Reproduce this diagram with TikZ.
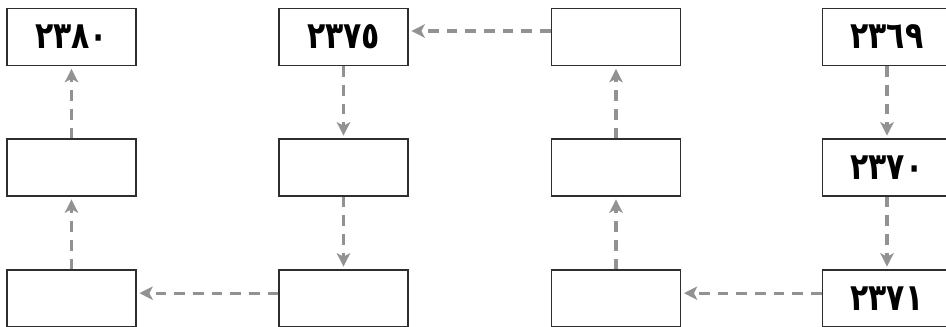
\documentclass[tikz,border=0pt]{standalone}
\usepackage{fontspec}
\usetikzlibrary{arrows.meta}
\newfontfamily\arabicfont[Script=Arabic,FakeStretch=0.8]{DejaVu Sans}
\definecolor{agray}{HTML}{929294}
\definecolor{aframe}{HTML}{2E2E2E}
\tikzset{
  yearbox/.style={draw=aframe,line width=1.1pt,minimum width=96.75pt,minimum height=42.75pt,inner sep=0pt,font=\arabicfont\bfseries\fontsize{28}{28}\selectfont},
  darr/.style={-{Stealth[length=10pt,width=10pt,inset=2.5pt]},line width=2.4pt,draw=agray,dash pattern=on 8pt off 6pt,shorten >=2pt},
}
\begin{document}
\begin{tikzpicture}[x=0.75pt,y=-0.75pt]
  \useasboundingbox (0,0) rectangle (946,326);
  \clip (0,0) rectangle (946,326);
  % boxes: column/row
  \foreach \n/\x/\y/\t in {
      c1r1/71.5/37/{٢٣٨٠}, c1r2/71.5/167.5/{}, c1r3/71.5/298.5/{},
      c2r1/343.5/37/{٢٣٧٥}, c2r2/343.5/167.5/{}, c2r3/343.5/298.5/{},
      c3r1/616/37/{}, c3r2/616/167.5/{}, c3r3/616/298.5/{},
      c4r1/887/37/{٢٣٦٩}, c4r2/887/167.5/{٢٣٧٠}, c4r3/887/298.5/{٢٣٧١}} {
    \node[yearbox] (\n) at (\x,\y) {\t};
  }
  % right column down
  \draw[darr] (c4r1) -- (c4r2);
  \draw[darr] (c4r2) -- (c4r3);
  \draw[darr] ([yshift=4pt]c4r3.west) -- ([yshift=4pt]c3r3.east);
  % third column up
  \draw[darr] (c3r3) -- (c3r2);
  \draw[darr] (c3r2) -- (c3r1);
  \draw[darr] ([yshift=4.5pt]c3r1.west) -- ([yshift=4.5pt]c2r1.east);
  % second column down
  \draw[darr] (c2r1) -- (c2r2);
  \draw[darr] (c2r2) -- (c2r3);
  \draw[darr] ([yshift=4pt]c2r3.west) -- ([yshift=4pt]c1r3.east);
  % first column up
  \draw[darr] (c1r3) -- (c1r2);
  \draw[darr] (c1r2) -- (c1r1);
\end{tikzpicture}
\end{document}
